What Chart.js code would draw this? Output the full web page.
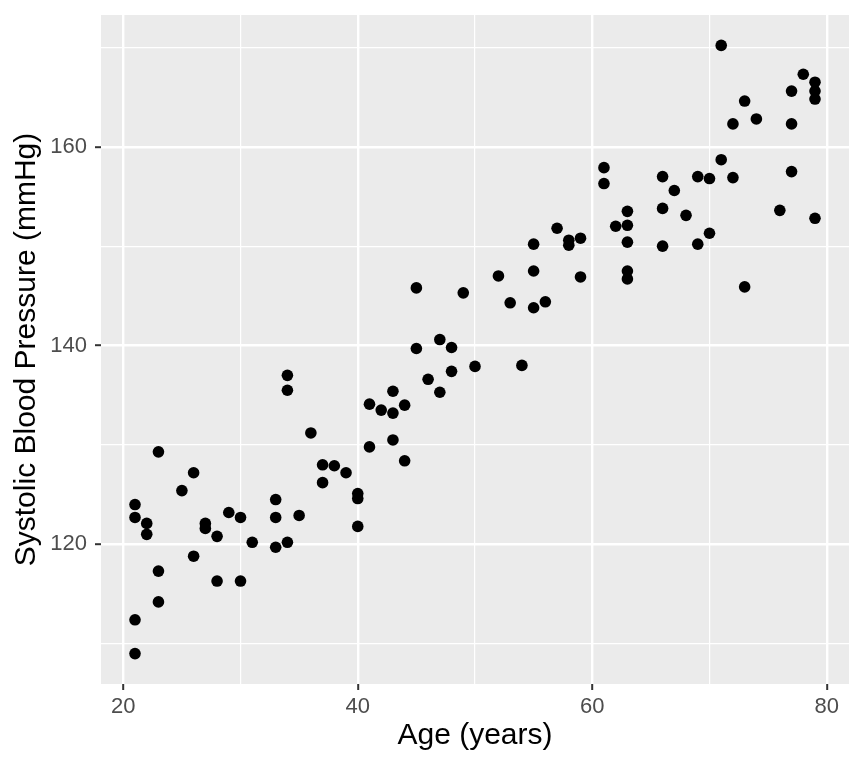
<!DOCTYPE html>
<html>
<head>
<meta charset="utf-8">
<script src="https://cdn.jsdelivr.net/npm/chart.js@4"></script>
<style>
  html, body { margin: 0; padding: 0; background: #ffffff; }
  #wrap { width: 864px; height: 768px; }
</style>
</head>
<body>
<div id="wrap"><canvas id="c" width="864" height="768"></canvas></div>
<script>
// ---- data ----
const ages = [
  21,21,21,21, 22,22, 23,23,23, 25, 26,26, 27,27, 28,28, 29, 30,30, 31,
  33,33,33, 34,34,34, 35, 36, 37,37, 38, 39, 40,40,40, 41,41, 42, 43,43,43,
  44,44, 45,45, 46, 47,47, 48,48, 49, 50, 52, 53, 54, 55,55,55, 56, 57,
  58,58, 59,59, 61,61, 62, 63,63,63,63,63, 66,66,66, 67, 68, 69,69, 70,70,
  71,71, 72,72, 73,73, 74, 76, 77,77,77, 78, 79,79,79,79
];
const systolic = [
  124.0,122.7,112.4,109.0, 122.1,121.0, 129.3,117.3,114.2, 125.4, 127.2,118.8, 122.1,121.6, 120.8,116.3, 123.2, 122.7,116.3, 120.2,
  124.5,122.7,119.7, 137.0,135.5,120.2, 122.9, 131.2, 128.0,126.2, 127.9, 127.2, 125.1,124.6,121.8, 134.1,129.8, 133.5, 135.4,133.2,130.5,
  134.0,128.4, 145.8,139.7, 136.6, 140.6,135.3, 139.8,137.4, 145.3, 137.9, 147.0, 144.3, 138.0, 150.2,147.5,143.8, 144.4, 151.8,
  150.6,150.1, 150.8,146.9, 157.9,156.3, 152.0, 153.5,152.1,150.4,147.5,146.7, 157.0,153.8,150.0, 155.6, 153.1, 157.0,150.2, 156.8,151.3,
  170.2,158.7, 162.3,156.9, 164.6,145.9, 162.8, 153.6, 165.6,162.3,157.5, 167.3, 166.5,165.6,164.8,152.8
];
const xLimits = [18.1, 81.9];
const yLimits = [105.94, 173.26];
const xMajorTicks = [20, 40, 60, 80];
const xMinorTicks = [30, 50, 70];
const yMajorTicks = [120, 140, 160];
const yMinorTicks = [110, 130, 150, 170];
const xTitle = 'Age (years)';
const yTitle = 'Systolic Blood Pressure (mmHg)';

const points = ages.map((a, i) => ({ x: a, y: systolic[i] }));

const panelBg = {
  id: 'panelBg',
  beforeDraw(chart) {
    const { ctx, chartArea: a } = chart;
    ctx.save();
    ctx.fillStyle = '#EBEBEB';
    ctx.fillRect(a.left, a.top, a.right - a.left, a.bottom - a.top);
    ctx.restore();
  }
};

function tickSet(major, minor) {
  return [...major, ...minor].sort((p, q) => p - q).map(v => ({ value: v }));
}
function isMajor(list, v) { return list.indexOf(v) >= 0; }

const fontFamily = '"Liberation Sans", Arial, Helvetica, sans-serif';

new Chart(document.getElementById('c'), {
  type: 'scatter',
  data: {
    datasets: [{
      data: points,
      backgroundColor: '#000000',
      borderWidth: 0,
      pointRadius: 5.8,
      pointHoverRadius: 5.8
    }]
  },
  plugins: [panelBg],
  options: {
    responsive: false,
    animation: false,
    devicePixelRatio: 1,
    layout: { padding: { top: 15, right: 15, left: 0, bottom: 0 } },
    plugins: { legend: { display: false }, tooltip: { enabled: false } },
    scales: {
      x: {
        type: 'linear',
        min: xLimits[0],
        max: xLimits[1],
        afterBuildTicks: s => { s.ticks = tickSet(xMajorTicks, xMinorTicks); },
        afterFit: s => { s.height = 84; s.paddingLeft = 0; s.paddingRight = 0; },
        border: { display: false },
        grid: {
          color: '#FFFFFF',
          lineWidth: c => isMajor(xMajorTicks, c.tick && c.tick.value) ? 2.4 : 1.2,
          drawTicks: true,
          tickLength: 6,
          tickWidth: 2,
          tickColor: c => isMajor(xMajorTicks, c.tick && c.tick.value) ? '#333333' : 'rgba(0,0,0,0)'
        },
        ticks: {
          autoSkip: false,
          maxRotation: 0,
          padding: 4,
          color: '#4D4D4D',
          font: { family: fontFamily, size: 22 },
          callback: v => isMajor(xMajorTicks, v) ? String(v) : ''
        },
        title: {
          display: true,
          text: xTitle,
          color: '#000000',
          font: { family: fontFamily, size: 30 },
          padding: { top: 0, bottom: 14 }
        }
      },
      y: {
        type: 'linear',
        min: yLimits[0],
        max: yLimits[1],
        afterBuildTicks: s => { s.ticks = tickSet(yMajorTicks, yMinorTicks); },
        afterFit: s => { s.width = 101; s.paddingTop = 0; s.paddingBottom = 0; },
        border: { display: false },
        grid: {
          color: '#FFFFFF',
          lineWidth: c => isMajor(yMajorTicks, c.tick && c.tick.value) ? 2.4 : 1.2,
          drawTicks: true,
          tickLength: 6,
          tickWidth: 2,
          tickColor: c => isMajor(yMajorTicks, c.tick && c.tick.value) ? '#333333' : 'rgba(0,0,0,0)'
        },
        ticks: {
          autoSkip: false,
          padding: 8,
          color: '#4D4D4D',
          font: { family: fontFamily, size: 22 },
          callback: v => isMajor(yMajorTicks, v) ? String(v) : ''
        },
        title: {
          display: true,
          text: yTitle,
          color: '#000000',
          font: { family: fontFamily, size: 30 },
          padding: { top: 9, bottom: 0 }
        }
      }
    }
  }
});
</script>
</body>
</html>
